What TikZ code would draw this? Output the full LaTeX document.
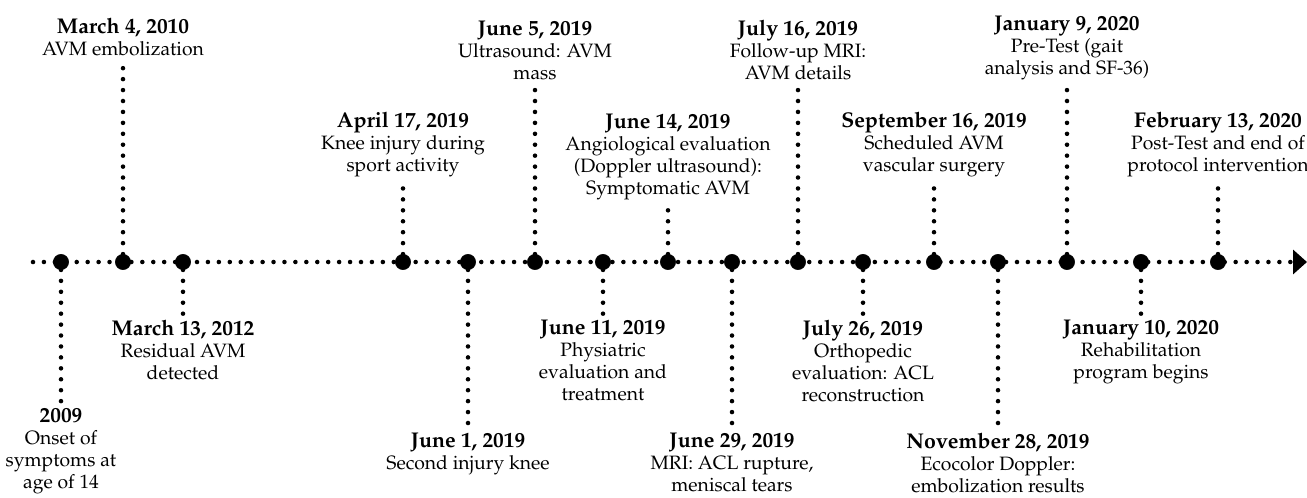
\documentclass[tikz,border=0pt]{standalone}
\usepackage[T1]{fontenc}
\usepackage{mathpazo}
\usetikzlibrary{arrows.meta}

\newcommand{\evdate}[1]{{\fontsize{16}{16.5}\selectfont\bfseries #1}}

\begin{document}
\begin{tikzpicture}[x=0.75pt, y=-0.75pt,
    event/.style={draw, circle, fill, minimum size=11.5pt, inner sep=0pt},
    dots/.style={line width=3.4pt, line cap=round, dash pattern=on 0pt off 8.2pt},
    info/.style={align=center, inner sep=2pt, font=\fontsize{14.5}{16.5}\selectfont}]
        \useasboundingbox (0,0) rectangle (1307,497);

        % Time axis
        \coordinate (start) at (33,262);
        \coordinate (end) at (1307,262);
        \draw[dots, -{Triangle[length=10.5pt, width=18pt]}] (start) -- (end);

        % Events on the axis
        \node[event] (onset) at (61,262) {};
        \node[event] (embol) at (123,262) {};
        \node[event] (resid) at (183,262) {};
        \node[event] (knee) at (403,262) {};
        \node[event] (second) at (468,262) {};
        \node[event] (usound) at (535,262) {};
        \node[event] (physio) at (603,262) {};
        \node[event] (angio) at (668,262) {};
        \node[event] (mri) at (732,262) {};
        \node[event] (followup) at (798,262) {};
        \node[event] (ortho) at (863,262) {};
        \node[event] (surgery) at (934,262) {};
        \node[event] (doppler) at (998,262) {};
        \node[event] (pretest) at (1067,262) {};
        \node[event] (rehab) at (1141,262) {};
        \node[event] (posttest) at (1218,262) {};

        % Labels above
        \node[info, anchor=south] (embolL) at (123,59) {\evdate{March 4, 2010}\\AVM embolization};
        \node[info, anchor=south] (kneeL) at (403,180) {\evdate{April 17, 2019}\\Knee injury during\\sport activity};
        \node[info, anchor=south] (usoundL) at (535,83) {\evdate{June 5, 2019}\\Ultrasound: AVM\\mass};
        \node[info, anchor=south] (angioL) at (668,203) {\evdate{June 14, 2019}\\Angiological evaluation\\(Doppler ultrasound):\\Symptomatic AVM};
        \node[info, anchor=south] (followupL) at (798,83) {\evdate{July 16, 2019}\\Follow-up MRI:\\AVM details};
        \node[info, anchor=south] (surgeryL) at (934,180) {\evdate{September 16, 2019}\\Scheduled AVM\\vascular surgery};
        \node[info, anchor=south] (pretestL) at (1067,83) {\evdate{January 9, 2020}\\Pre-Test (gait\\analysis and SF-36)};
        \node[info, anchor=south] (posttestL) at (1218,180) {\evdate{February 13, 2020}\\Post-Test and end of\\protocol intervention};

        % Labels below
        \node[info, anchor=north] (onsetL) at (61,405) {\evdate{2009}\\Onset of\\symptoms at\\age of 14};
        \node[info, anchor=north] (residL) at (183,317) {\evdate{March 13, 2012}\\Residual AVM\\detected};
        \node[info, anchor=north] (secondL) at (468,430) {\evdate{June 1, 2019}\\Second injury knee};
        \node[info, anchor=north] (physioL) at (603,317) {\evdate{June 11, 2019}\\Physiatric\\evaluation and\\treatment};
        \node[info, anchor=north] (mriL) at (732,430) {\evdate{June 29, 2019}\\MRI: ACL rupture,\\meniscal tears};
        \node[info, anchor=north] (orthoL) at (863,317) {\evdate{July 26, 2019}\\Orthopedic\\evaluation: ACL\\reconstruction};
        \node[info, anchor=north] (dopplerL) at (998,430) {\evdate{November 28, 2019}\\Ecocolor Doppler:\\embolization results};
        \node[info, anchor=north] (rehabL) at (1141,317) {\evdate{January 10, 2020}\\Rehabilitation\\program begins};

        % Connectors
        \draw[dots] (embol) -- (embolL);
        \draw[dots] (knee) -- (kneeL);
        \draw[dots] (usound) -- (usoundL);
        \draw[dots] (angio) -- (angioL);
        \draw[dots] (followup) -- (followupL);
        \draw[dots] (surgery) -- (surgeryL);
        \draw[dots] (pretest) -- (pretestL);
        \draw[dots] (posttest) -- (posttestL);
        \draw[dots] (onset) -- (onsetL);
        \draw[dots] (resid) -- (residL);
        \draw[dots] (second) -- (secondL);
        \draw[dots] (physio) -- (physioL);
        \draw[dots] (mri) -- (mriL);
        \draw[dots] (ortho) -- (orthoL);
        \draw[dots] (doppler) -- (dopplerL);
        \draw[dots] (rehab) -- (rehabL);
    \end{tikzpicture}
\end{document}
